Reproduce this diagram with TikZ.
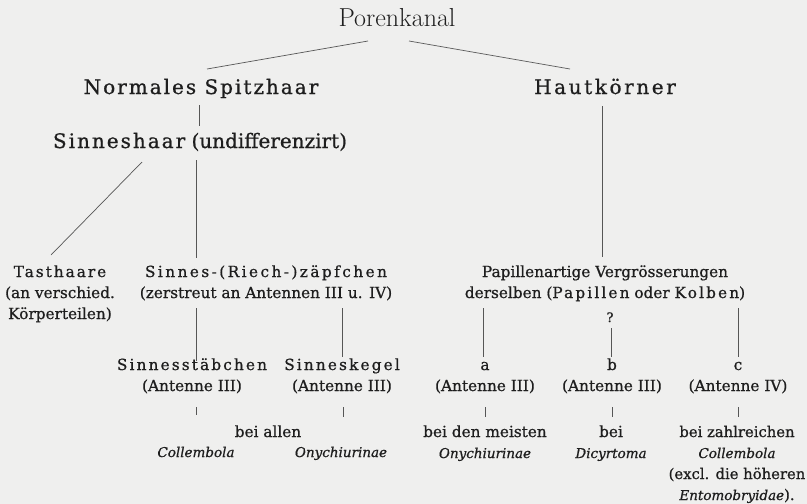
\documentclass[tikz,border=0pt]{standalone}
\usepackage{fontspec}
\usetikzlibrary{calc}
\newfontfamily\dvs[FakeBold=0.8]{DejaVu Serif}
\definecolor{paper}{HTML}{EFEFEE}
\definecolor{ink}{HTML}{1E1E1E}
\newcommand\sperr[2][15]{{\addfontfeatures{LetterSpace=#1}#2}}% gesperrt
\newcommand\zeilen[1]{\begin{tabular}[t]{@{}c@{}}#1\end{tabular}}
\newcommand\taxname[1]{{\itshape\fontsize{13.5}{21}\selectfont #1}}
\newcommand\bodyfont{\dvs\fontsize{15.3}{21}\selectfont}
\newcommand\headfont{\dvs\fontsize{20}{24}\selectfont}
\tikzset{
  top/.style={font=\fontsize{26}{30}\selectfont,inner sep=0pt,text=ink,anchor=base},
  head/.style={font=\headfont,inner sep=0pt,text=ink,anchor=base},   % upper levels
  txt/.style={font=\bodyfont,inner sep=0pt,text=ink,anchor=base},    % lower levels
  taxon/.style={font=\bodyfont\itshape\fontsize{13.5}{21}\selectfont,inner sep=0pt,text=ink,anchor=base},
  link/.style={draw=ink!75,line width=0.7pt},
}
\begin{document}
\begin{tikzpicture}[x=1pt,y=-1pt]
  \fill[paper] (0,0) rectangle (807,504);
  \useasboundingbox (0,0) rectangle (807,504);
  \node[top] (pk) at (397,26) {Porenkanal};
  \node[head] (nsh) at (201,94) {\sperr[10]{Normales Spitzhaar}};
  \node[head] (hk) at (605,94) {\sperr[13]{Hautkörner}};
  \node[head] (sh) at (200,148) {\sperr[10]{Sinneshaar} (undifferenzirt)};
  \draw[link] ([xshift=-29pt,yshift=-15pt]pk.base) -- ([xshift=6pt,yshift=25pt]nsh.base);
  \draw[link] ([xshift=12pt,yshift=-15pt]pk.base) -- ([xshift=-35pt,yshift=25pt]hk.base);
  \draw[link] ([xshift=-2pt,yshift=-11pt]nsh.base) -- ([xshift=-1pt,yshift=22pt]sh.base);
  % linker Ast
  \node[txt] (tast) at (60,277) {\zeilen{\sperr[13]{Tasthaare}\\(an verschied.\\Körperteilen)}};
  \node[txt] (zapf) at (266,277) {\zeilen{\sperr[16]{Sinnes-(Riech-)zäpfchen}\\(zerstreut an Antennen III u. IV)}};
  \node[txt] (stab) at (192,370) {\zeilen{\sperr[14]{Sinnesstäbchen}\\(Antenne III)}};
  \node[txt] (kegel) at (342,370) {\zeilen{\sperr[14]{Sinneskegel}\\(Antenne III)}};
  \node[txt] (allen) at (268,437) {bei allen};
  \node[taxon] (collA) at (196,457) {Collembola};
  \node[taxon] (onyA) at (341,457) {Onychiurinae};
  \draw[link] ([xshift=-58pt,yshift=-14pt]sh.base) -- ([xshift=-9pt,yshift=22pt]tast.base);
  \draw[link] ([xshift=-4pt,yshift=-12pt]sh.base) -- ([xshift=-70pt,yshift=19pt]zapf.base);
  \draw[link] ([xshift=-70pt,yshift=-31pt]zapf.base) -- ([xshift=4pt,yshift=9pt]stab.base);
  \draw[link] ([xshift=76pt,yshift=-31pt]zapf.base) -- ([yshift=13pt]kegel.base);
  \draw[link] ([xshift=4pt,yshift=-37pt]stab.base) -- ([yshift=42pt]collA.base);
  \draw[link] ([xshift=1pt,yshift=-37pt]kegel.base) -- ([xshift=2pt,yshift=40pt]onyA.base);
  % rechter Ast
  \node[txt] (pap) at (605,277) {\zeilen{Papillenartige Vergrösserungen\\derselben (\sperr[14]{Papillen} oder \sperr[14]{Kolben})}};
  \node[txt,font=\dvs\fontsize{13}{15}\selectfont] (q) at (610,322) {?};
  \node[txt] (na) at (485,370) {\zeilen{a\\(Antenne III)}};
  \node[txt] (nb) at (612,370) {\zeilen{b\\(Antenne III)}};
  \node[txt] (nc) at (738,370) {\zeilen{c\\(Antenne IV)}};
  \node[txt] (meist) at (485,437) {\zeilen{bei den meisten\\\taxname{Onychiurinae}}};
  \node[txt] (dic) at (611,437) {\zeilen{bei\\\taxname{Dicyrtoma}}};
  \node[txt,font=\dvs\fontsize{14.8}{21}\selectfont] (zahl) at (737,437) {\zeilen{bei zahlreichen\\\taxname{Collembola}\\(excl. die höheren\\\taxname{Entomobryidae}).}};
  \draw[link] ([xshift=-3pt,yshift=-12pt]hk.base) -- ([xshift=-3pt,yshift=20pt]pap.base);
  \draw[link] ([xshift=-122pt,yshift=-31pt]pap.base) -- ([xshift=-2pt,yshift=13pt]na.base);
  \draw[link] ([xshift=1pt,yshift=-6pt]q.base) -- ([xshift=-1pt,yshift=13pt]nb.base);
  \draw[link] ([xshift=133pt,yshift=-31pt]pap.base) -- ([yshift=13pt]nc.base);
  \draw[link] ([yshift=-37pt]na.base) -- ([yshift=20pt]meist.base);
  \draw[link] ([yshift=-37pt]nb.base) -- ([xshift=1pt,yshift=20pt]dic.base);
  \draw[link] ([yshift=-37pt]nc.base) -- ([xshift=1pt,yshift=20pt]zahl.base);
\end{tikzpicture}
\end{document}
